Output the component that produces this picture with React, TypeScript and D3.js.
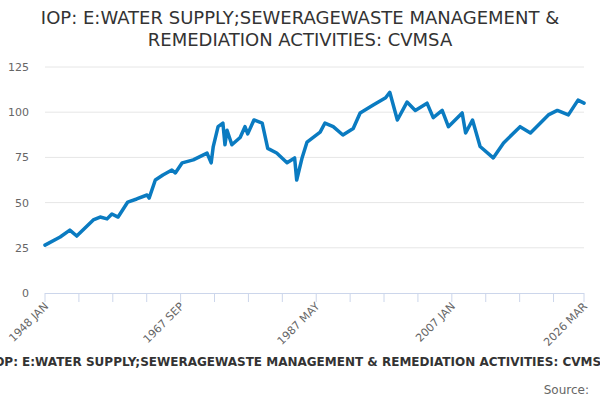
import React from "react";
import * as d3 from "d3";

const dates = [1948.0,1950.2,1951.6,1952.6,1953.8,1955.0,1956.0,1957.0,1957.7,1958.6,1960.0,1961.3,1962.8,1963.1,1964.0,1965.1,1966.4,1966.9,1967.9,1969.5,1971.5,1972.1,1972.4,1973.1,1973.8,1974.1,1974.4,1975.1,1976.3,1977.0,1977.4,1978.3,1979.5,1980.3,1981.6,1983.1,1984.2,1984.5,1985.3,1986.0,1987.9,1988.6,1989.8,1991.2,1992.7,1993.7,1995.6,1997.4,1998.0,1999.1,2000.5,2001.7,2003.4,2004.3,2005.6,2006.5,2008.5,2009.0,2010.0,2011.1,2013.0,2014.5,2016.9,2018.4,2021.0,2022.3,2023.9,2025.3,2026.17];
const values = [26.5,31,34.8,31.5,36,40.4,42,41,43.7,42,50.3,52,54.2,52.5,62.5,65.3,68,66.4,72,73.6,77.4,72,81,92,94,82,90,82,86,92,88,95.7,94,80,77.4,72,74.7,62.5,75,83.5,89,94,92,87.4,91,99.6,104,108,111,95.7,105.6,101,105,97,101,92,99.6,88.5,95.7,81,74.7,83,92,88.5,98.5,101,98.5,106.7,105];
const yTicks = [0,25,50,75,100,125];
const tickLabels = ["1948 JAN","1967 SEP","1987 MAY","2007 JAN","2026 MAR"];
const title = ["IOP: E:WATER SUPPLY;SEWERAGEWASTE MANAGEMENT &", "REMEDIATION ACTIVITIES: CVMSA"];
const subtitle = "IOP: E:WATER SUPPLY;SEWERAGEWASTE MANAGEMENT & REMEDIATION ACTIVITIES: CVMSA";

export default function App() {
  const startM = 1948 * 12, endM = 2026 * 12 + 2;
  const x = d3.scaleLinear().domain([startM, endM]).range([45, 584]);
  const y = d3.scaleLinear().domain([0, 125]).range([293, 67]);
  const pts = dates.map((d, i) => [d * 12, values[i]] as [number, number]);
  const line = d3.line<[number, number]>().x(d => x(d[0])).y(d => y(d[1]));
  const ticks: number[] = [];
  for (let m = startM; m <= endM; m += 59) ticks.push(m);
  if (ticks[ticks.length - 1] !== endM) ticks.push(endM);
  const labelTicks = [ticks[0], ticks[4], ticks[8], ticks[12], endM];
  const font = "DejaVu Sans, sans-serif";
  return (
    <svg width={600} height={400} style={{ position: "absolute", left: 0, top: 0 }} fontFamily={font}>
      <rect width={600} height={400} fill="#fff" />
      {title.map((t, i) => (
        <text key={i} x={300} y={24 + i * 22} textAnchor="middle" fontSize={18} fill="#333">{t}</text>
      ))}
      {yTicks.map(v => (
        <g key={v}>
          {v > 0 && <line x1={45} x2={584} y1={y(v)} y2={y(v)} stroke="#e6e6e6" />}
          <text x={29} y={y(v) + 4} textAnchor="end" fontSize={11} fill="#666">{v}</text>
        </g>
      ))}
      <line x1={45} x2={584} y1={293.5} y2={293.5} stroke="#ccd6eb" />
      {ticks.map(t => (
        <line key={t} x1={x(t)} x2={x(t)} y1={293} y2={302} stroke="#ccd6eb" />
      ))}
      {labelTicks.map((t, i) => (
        <text key={t} transform={`translate(${x(t) + 4},${307}) rotate(-45)`} textAnchor="end" fontSize={11} fill="#666">{tickLabels[i]}</text>
      ))}
      <path d={line(pts) || ""} fill="none" stroke="#0a7bc1" strokeWidth={3.5} strokeLinejoin="round" strokeLinecap="round" />
      <text x={300} y={366} textAnchor="middle" fontSize={12} fontWeight="bold" fill="#333">{subtitle}</text>
      <text x={589} y={394} textAnchor="end" fontSize={12} fill="#666">Source:</text>
    </svg>
  );
}
